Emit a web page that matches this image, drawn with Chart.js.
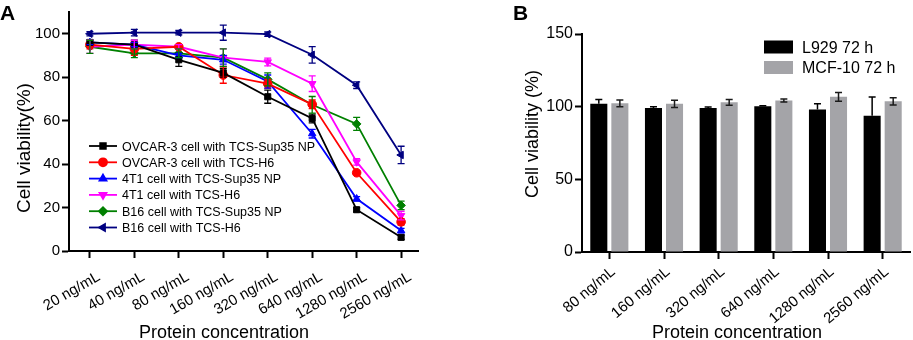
<!DOCTYPE html>
<html>
<head>
<meta charset="utf-8">
<script src="https://cdn.jsdelivr.net/npm/chart.js@4.4.1/dist/chart.umd.min.js"></script>
<style>
  html, body { margin: 0; padding: 0; background: #fff; }
  body { width: 913px; height: 340px; position: relative; overflow: hidden; }
  .panel { position: absolute; top: 0; height: 340px; }
  #panelA { left: 0; width: 440px; }
  #panelB { left: 480px; width: 433px; }
</style>
</head>
<body>
<div class="panel" id="panelA"><canvas id="chartA"></canvas></div>
<div class="panel" id="panelB"><canvas id="chartB"></canvas></div>
<script>
// ---- panel A data ----
const concLabelsA = ['20 ng/mL', '40 ng/mL', '80 ng/mL', '160 ng/mL', '320 ng/mL', '640 ng/mL', '1280 ng/mL', '2560 ng/mL'];
const yTicksA = [0, 20, 40, 60, 80, 100];

const ovcarSup35 = [96, 95, 88, 82, 71, 61, 19, 6.3];
const ovcarSup35Err = [1, 2, 3, 2, 3, 2, 1, 1];
const ovcarH6 = [95, 93, 94, 81, 77, 67.5, 36, 13.4];
const ovcarH6Err = [2, 3, 1, 3.8, 2, 2, 1, 1.5];
const t41Sup35 = [96, 95, 90, 88, 78, 54, 24, 9.4];
const t41Sup35Err = [1, 1, 1, 2, 3, 2, 1, 1];
const t41H6 = [94, 95, 94, 89, 87, 77, 41, 16.3];
const t41H6Err = [3, 2, 1, 4, 1.8, 3.6, 1.5, 2];
const b16Sup35 = [94, 91, 91, 89, 79, 67.3, 58.5, 21];
const b16Sup35Err = [3, 2, 2, 4, 3, 3.8, 3, 2];
const b16H6 = [100, 100.5, 100.5, 100.5, 99.8, 90.3, 76.3, 44.2];
const b16H6Err = [1, 1.5, 1, 3.5, 1, 3.8, 1.5, 4];

// ---- panel B data ----
const concLabelsB = ['80 ng/mL', '160 ng/mL', '320 ng/mL', '640 ng/mL', '1280 ng/mL', '2560 ng/mL'];
const yTicksB = [0, 50, 100, 150];
const l929 = [102, 99, 99, 100.3, 98, 93.7];
const l929Err = [3, 1, 0.8, 0.3, 4, 13];
const mcf10 = [102.3, 102, 103, 104.2, 106.8, 103.7];
const mcf10Err = [2.3, 2.5, 2, 1, 3, 2.5];

const FONT = "'Liberation Sans', Arial, Helvetica, sans-serif";
Chart.defaults.font.family = FONT;
Chart.defaults.color = '#000';

// error bars through the y scale
const errorBars = {
  id: 'errorBars',
  afterDatasetsDraw(chart, args, opts) {
    const ctx = chart.ctx;
    const yScale = chart.scales.y;
    chart.data.datasets.forEach((ds, di) => {
      if (!ds.errors) return;
      const meta = chart.getDatasetMeta(di);
      ctx.save();
      ctx.strokeStyle = ds.errorColor || ds.borderColor;
      ctx.lineWidth = opts.lineWidth || 1.3;
      meta.data.forEach((el, i) => {
        const d = ds.data[i];
        const v = typeof d === 'object' ? d.y : d;
        const e = ds.errors[i];
        const x = el.x;
        const yTop = yScale.getPixelForValue(v + e);
        const yBot = ds.errorUpperOnly ? yScale.getPixelForValue(v) : yScale.getPixelForValue(v - e);
        const c = opts.cap || 3.5;
        ctx.beginPath();
        ctx.moveTo(x, yTop); ctx.lineTo(x, yBot);
        ctx.moveTo(x - c, yTop); ctx.lineTo(x + c, yTop);
        if (!ds.errorUpperOnly) { ctx.moveTo(x - c, yBot); ctx.lineTo(x + c, yBot); }
        ctx.stroke();
      });
      ctx.restore();
    });
  }
};

// legend drawn inside the plot
const innerLegend = {
  id: 'innerLegend',
  afterDraw(chart, args, opts) {
    const ctx = chart.ctx;
    const a = chart.chartArea;
    ctx.save();
    ctx.font = opts.fontSize + 'px ' + FONT;
    ctx.textBaseline = 'alphabetic';
    ctx.textAlign = 'left';
    chart.data.datasets.forEach((ds, i) => {
      const cy = a.top + opts.y + i * opts.rowH;
      if (opts.kind === 'line') {
        const x0 = a.left + opts.x;
        ctx.strokeStyle = ds.borderColor;
        ctx.fillStyle = ds.borderColor;
        ctx.lineWidth = 1.8;
        ctx.beginPath();
        ctx.moveTo(x0, cy); ctx.lineTo(x0 + 28, cy);
        ctx.stroke();
        Chart.helpers.drawPoint(ctx, { pointStyle: ds.pointStyle, radius: 4, rotation: ds.pointRotation || 0, borderWidth: 1 }, x0 + 14, cy);
        ctx.fillStyle = '#000';
        ctx.fillText(ds.label, x0 + 33, cy + opts.fontSize * 0.36);
      } else {
        const x0 = a.right - opts.x;
        ctx.fillStyle = ds.backgroundColor;
        ctx.fillRect(x0, cy - 6.5, 29, 13);
        ctx.fillStyle = '#000';
        ctx.fillText(ds.label, x0 + 38, cy + opts.fontSize * 0.36);
      }
    });
    ctx.restore();
  }
};

// panel letter and axis titles
const panelText = {
  id: 'panelText',
  afterDraw(chart, args, o) {
    const ctx = chart.ctx;
    ctx.save();
    ctx.fillStyle = '#000';
    ctx.textBaseline = 'alphabetic';
    ctx.font = 'bold 21px ' + FONT;
    ctx.textAlign = 'left';
    ctx.fillText(o.letter, o.letterX, 20);
    ctx.font = '18px ' + FONT;
    ctx.textAlign = 'center';
    ctx.fillText(o.xTitle, o.xTitleX, 338);
    ctx.font = o.yTitleSize + 'px ' + FONT;
    ctx.translate(o.yTitleX, o.yTitleY);
    ctx.rotate(-Math.PI / 2);
    ctx.fillText(o.yTitle, 0, 0);
    ctx.restore();
  }
};

const axisBorder = { color: '#000', width: 2 };
const axisGrid = { drawOnChartArea: false, drawTicks: true, tickLength: 7, tickWidth: 2, tickColor: '#000' };

function lineSet(label, values, errs, color, pointStyle, rot) {
  return {
    label: label,
    data: values.map((v, i) => ({ x: i, y: v })),
    errors: errs,
    borderColor: color,
    backgroundColor: color,
    borderWidth: 1.8,
    pointStyle: pointStyle,
    pointRotation: rot,
    pointRadius: 4.3,
    pointBorderWidth: 1,
    tension: 0,
    clip: false
  };
}

new Chart(document.getElementById('chartA'), {
  type: 'line',
  data: {
    datasets: [
      lineSet('OVCAR-3 cell with TCS-Sup35 NP', ovcarSup35, ovcarSup35Err, '#000000', 'rect', 0),
      lineSet('OVCAR-3 cell with TCS-H6', ovcarH6, ovcarH6Err, '#ff0000', 'circle', 0),
      lineSet('4T1 cell with TCS-Sup35 NP', t41Sup35, t41Sup35Err, '#0000ff', 'triangle', 0),
      lineSet('4T1 cell with TCS-H6', t41H6, t41H6Err, '#ff00ff', 'triangle', 180),
      lineSet('B16 cell with TCS-Sup35 NP', b16Sup35, b16Sup35Err, '#008000', 'rectRot', 0),
      lineSet('B16 cell with TCS-H6', b16H6, b16H6Err, '#000080', 'triangle', -90)
    ]
  },
  options: {
    responsive: true,
    maintainAspectRatio: false,
    animation: false,
    layout: { padding: { top: 12, right: 22, left: 0, bottom: 0 } },
    plugins: {
      legend: { display: false },
      tooltip: { enabled: false },
      errorBars: { cap: 3.5, lineWidth: 1.3 },
      innerLegend: { kind: 'line', x: 20, y: 134, rowH: 16.3, fontSize: 12.5 },
      panelText: {
        letter: 'A', letterX: 0,
        xTitle: 'Protein concentration', xTitleX: 224,
        yTitle: 'Cell viability(%)', yTitleX: 30, yTitleY: 148, yTitleSize: 19
      }
    },
    scales: {
      x: {
        type: 'linear',
        min: -0.47,
        max: 7.38,
        afterBuildTicks: s => { s.ticks = concLabelsA.map((_, i) => ({ value: i })); },
        afterFit: s => { s.height = 89; },
        grid: axisGrid,
        border: axisBorder,
        ticks: { autoSkip: false, minRotation: 30, maxRotation: 30, padding: 10, labelOffset: 9, font: { size: 15 }, color: '#000',
                 callback: v => concLabelsA[v] }
      },
      y: {
        min: 0,
        max: 110,
        afterBuildTicks: s => { s.ticks = yTicksA.map(v => ({ value: v })); },
        afterFit: s => { s.width = 69; },
        grid: axisGrid,
        border: axisBorder,
        ticks: { padding: 2, font: { size: 15 }, color: '#000' }
      }
    }
  },
  plugins: [errorBars, innerLegend, panelText]
});

new Chart(document.getElementById('chartB'), {
  type: 'bar',
  data: {
    labels: concLabelsB,
    datasets: [
      { label: 'L929 72 h', data: l929, errors: l929Err, errorUpperOnly: true, backgroundColor: '#000000', errorColor: '#000000' },
      { label: 'MCF-10 72 h', data: mcf10, errors: mcf10Err, backgroundColor: '#a4a4a8', errorColor: '#1a1a1a' }
    ]
  },
  options: {
    responsive: true,
    maintainAspectRatio: false,
    animation: false,
    layout: { padding: { top: 34, right: 3, left: 0, bottom: 0 } },
    datasets: { bar: { categoryPercentage: 0.77, barPercentage: 0.81 } },
    plugins: {
      legend: { display: false },
      tooltip: { enabled: false },
      errorBars: { cap: 3.5, lineWidth: 1.5 },
      innerLegend: { kind: 'box', x: 146, y: 13, rowH: 20.5, fontSize: 16 },
      panelText: {
        letter: 'B', letterX: 33,
        xTitle: 'Protein concentration', xTitleX: 257,
        yTitle: 'Cell viability (%)', yTitleX: 58, yTitleY: 134, yTitleSize: 18
      }
    },
    scales: {
      x: {
        afterFit: s => { s.height = 88; },
        grid: Object.assign({ offset: false }, axisGrid),
        border: axisBorder,
        ticks: { autoSkip: false, minRotation: 40, maxRotation: 40, padding: 4, labelOffset: 4, font: { size: 15 }, color: '#000' }
      },
      y: {
        min: 0,
        max: 150,
        afterBuildTicks: s => { s.ticks = yTicksB.map(v => ({ value: v })); },
        afterFit: s => { s.width = 102; },
        grid: axisGrid,
        border: axisBorder,
        ticks: { padding: 2, font: { size: 16 }, color: '#000' }
      }
    }
  },
  plugins: [errorBars, innerLegend, panelText]
});
</script>
</body>
</html>
